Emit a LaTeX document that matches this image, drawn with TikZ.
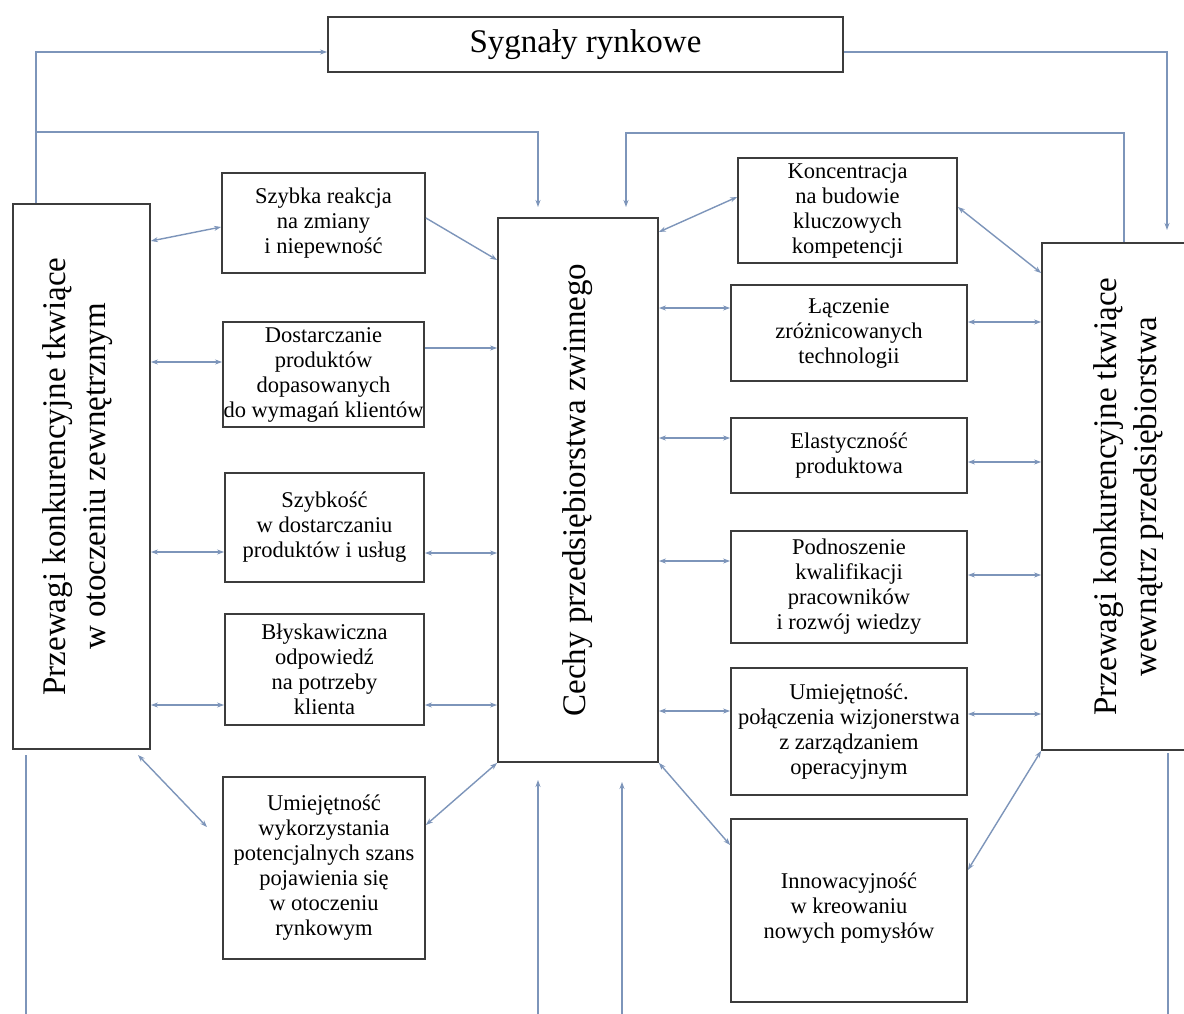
\documentclass[tikz,border=0pt]{standalone}
\usepackage{fontspec}
\usepackage{graphicx}
\setmainfont{Liberation Serif}
\usetikzlibrary{arrows.meta}
\definecolor{lnk}{HTML}{7D95BA}
\definecolor{bord}{HTML}{3C3C3C}
\tikzset{
  box/.style={draw=bord, line width=1.8pt, fill=white, align=center, inner sep=0pt,
              font=\fontsize{22.5}{25}\selectfont, text=black},
  bigtext/.style={font=\fontsize{33}{40}\selectfont},
  conn/.style={draw=lnk, line width=1.4pt},
  >={Stealth[length=7pt,width=5pt]}
}
\newcommand{\vtext}[2]{\rotatebox{90}{\begin{tabular}{@{}c@{}}#1\\#2\end{tabular}}}
\begin{document}
\begin{tikzpicture}[x=1pt,y=-1pt]
\useasboundingbox (0,0) rectangle (1184,1014);
\fill[white] (0,0) rectangle (1184,1014);
\clip (0,0) rectangle (1184,1014);

% main boxes
\node[box, bigtext, minimum width=515pt, minimum height=55pt] (syg) at (585.5,44.5) {Sygnały rynkowe};
\node[box, bigtext, minimum width=137pt, minimum height=545pt] (L) at (81.5,476.5)
  {\vtext{Przewagi konkurencyjne tkwiące}{w otoczeniu zewnętrznym}\hspace*{8pt}};
\node[box, bigtext, minimum width=160pt, minimum height=544pt] (C) at (578,490)
  {\rotatebox{90}{Cechy przedsiębiorstwa zwinnego}};
\node[box, bigtext, minimum width=173pt, minimum height=507pt] (R) at (1128.5,496.5)
  {\vtext{Przewagi konkurencyjne tkwiące}{wewnątrz przedsiębiorstwa}};

% left column
\node[box, minimum width=203pt, minimum height=100pt] (l1) at (323.5,223) {Szybka reakcja\\na zmiany\\i niepewność};
\node[box, minimum width=201pt, minimum height=105pt] (l2) at (323.5,374.5) {Dostarczanie\\produktów\\dopasowanych\\do wymagań klientów};
\node[box, minimum width=199pt, minimum height=109pt] (l3) at (324.5,527.5) {Szybkość\\w dostarczaniu\\produktów i usług};
\node[box, minimum width=199pt, minimum height=111pt] (l4) at (324.5,669.5) {Błyskawiczna\\odpowiedź\\na potrzeby\\klienta};
\node[box, minimum width=202pt, minimum height=182pt] (l5) at (324,868) {Umiejętność\\wykorzystania\\potencjalnych szans\\pojawienia się\\w otoczeniu\\rynkowym};

% right column
\node[box, minimum width=219pt, minimum height=105pt] (r1) at (847.5,210.5) {Koncentracja\\na budowie\\kluczowych\\kompetencji};
\node[box, minimum width=236pt, minimum height=96pt] (r2) at (849,333) {Łączenie\\zróżnicowanych\\technologii};
\node[box, minimum width=236pt, minimum height=75pt] (r3) at (849,455.5) {Elastyczność\\produktowa};
\node[box, minimum width=236pt, minimum height=112pt] (r4) at (849,587) {Podnoszenie\\kwalifikacji\\pracowników\\i rozwój wiedzy};
\node[box, minimum width=236pt, minimum height=127pt] (r5) at (849,731.5) {Umiejętność.\\połączenia wizjonerstwa\\z zarządzaniem\\operacyjnym};
\node[box, minimum width=236pt, minimum height=183pt] (r6) at (849,910.5) {Innowacyjność\\w kreowaniu\\nowych pomysłów\\[-16pt]\mbox{}};

% free ends
\coordinate (rin) at (1167,230);
\coordinate (cinL) at (538,207);
\coordinate (cinR) at (626,207);
\coordinate (j1) at (36,132);
\coordinate (l5in) at (207,827);
\coordinate (bL0) at (26,755);  \coordinate (bL1) at (26,1014);
\coordinate (bC0) at (538,780); \coordinate (bC1) at (538,1014);
\coordinate (bD0) at (622,782); \coordinate (bD1) at (622,1014);
\coordinate (bR0) at (1168,753); \coordinate (bR1) at (1168,1014);

% top loops
\draw[conn,->] (L.north -| 36,0) |- (syg.west |- 0,52);
\draw[conn,->] (syg.east |- 0,52) -| (rin);
\draw[conn,->] (j1) -| (cinL);
\draw[conn,->] (R.north -| 1124,0) |- (cinR |- 0,133) -- (cinR);

% left side connectors
\draw[conn,<->] (L.east |- 0,241) -- (l1.west |- 0,227);
\draw[conn,->] (l1.east |- 0,218) -- (C.west |- 0,260);
\draw[conn,<->] (L.east |- 0,362) -- (l2.west |- 0,362);
\draw[conn,->] (l2.east |- 0,348) -- (C.west |- 0,348);
\draw[conn,<->] (L.east |- 0,552) -- (l3.west |- 0,552);
\draw[conn,<->] (l3.east |- 0,553) -- (C.west |- 0,553);
\draw[conn,<->] (L.east |- 0,705) -- (l4.west |- 0,705);
\draw[conn,<->] (l4.east |- 0,705) -- (C.west |- 0,705);
\draw[conn,<->] (138,755) -- (l5in);
\draw[conn,<->] (l5.east |- 0,825) -- (C.south west);

% right side connectors
\draw[conn,<->] (C.east |- 0,232) -- (r1.west |- 0,197);
\draw[conn,<->] (r1.east |- 0,207) -- (R.west |- 0,273);
\draw[conn,<->] (C.east |- 0,308) -- (r2.west |- 0,308);
\draw[conn,<->] (r2.east |- 0,322) -- (R.west |- 0,322);
\draw[conn,<->] (C.east |- 0,438) -- (r3.west |- 0,438);
\draw[conn,<->] (r3.east |- 0,462) -- (R.west |- 0,462);
\draw[conn,<->] (C.east |- 0,561) -- (r4.west |- 0,561);
\draw[conn,<->] (r4.east |- 0,575) -- (R.west |- 0,575);
\draw[conn,<->] (C.east |- 0,711) -- (r5.west |- 0,711);
\draw[conn,<->] (r5.east |- 0,714) -- (R.west |- 0,714);
\draw[conn,<->] (C.south east) -- (r6.west |- 0,845);
\draw[conn,<->] (R.south west) -- (r6.east |- 0,870);

% bottom lines
\draw[conn] (bL0) -- (bL1);
\draw[conn,->] (bC1) -- (bC0);
\draw[conn,->] (bD1) -- (bD0);
\draw[conn] (bR0) -- (bR1);
\end{tikzpicture}
\end{document}
